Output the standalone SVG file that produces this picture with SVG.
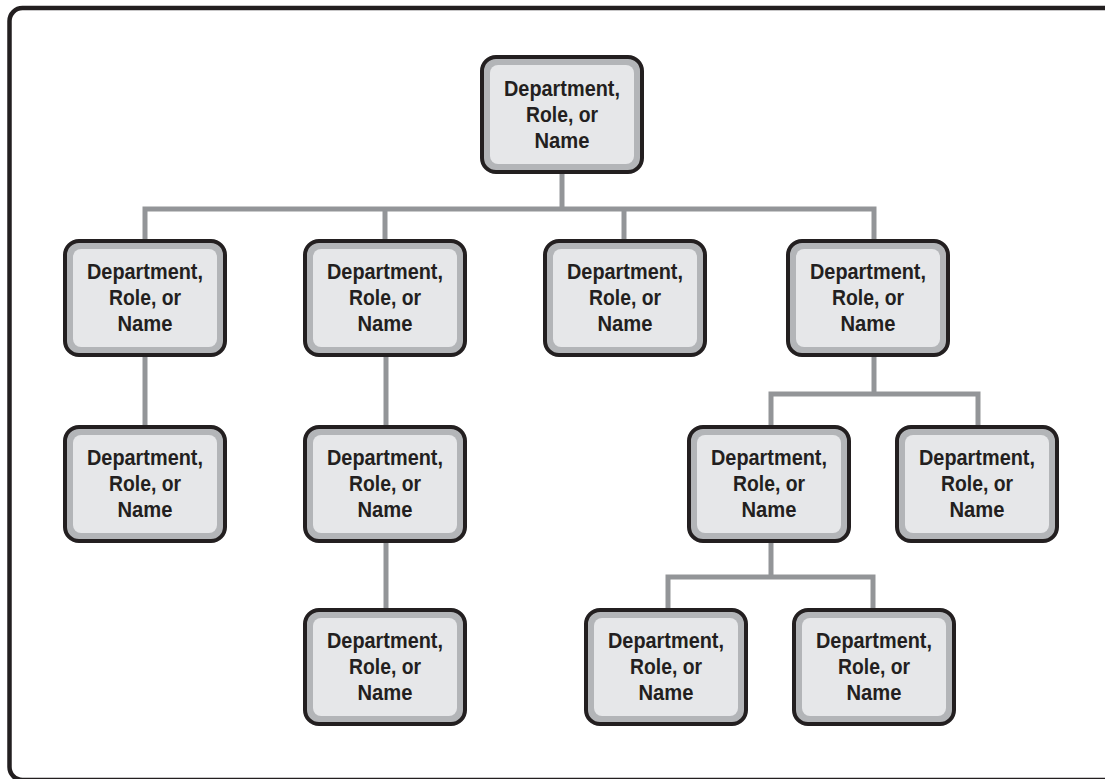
<svg xmlns="http://www.w3.org/2000/svg" width="1105" height="779" viewBox="0 0 1105 779">
<style>
.frame{fill:#ffffff;stroke:#231f20;stroke-width:4.5}
.box{fill:#b3b5b8;stroke:#231f20;stroke-width:4}
.inner{fill:#e6e7e9}
.lbl{font-family:"Liberation Sans",Arial,sans-serif;font-weight:bold;font-size:22px;fill:#231f20;text-anchor:middle}
.conn{fill:none;stroke:#939598;stroke-width:5;stroke-linecap:butt;stroke-linejoin:miter}
</style>
<defs>
<g id="card">
<rect class="box" x="0" y="0" width="160" height="114" rx="14" ry="14"/>
<rect class="inner" x="8" y="8" width="144" height="98" rx="8" ry="8"/>
<text class="lbl" x="80" y="38" textLength="116" lengthAdjust="spacingAndGlyphs">Department,</text>
<text class="lbl" x="80" y="64" textLength="72" lengthAdjust="spacingAndGlyphs">Role, or</text>
<text class="lbl" x="80" y="90" textLength="55" lengthAdjust="spacingAndGlyphs">Name</text>
</g>
</defs>
<rect class="frame" x="9.5" y="8" width="1110" height="772" rx="13" ry="13"/>
<g id="connectors">
<path class="conn" d="M562 172 V209"/>
<path class="conn" d="M145 241 V209 H874 V241"/>
<path class="conn" d="M385 209 V241"/>
<path class="conn" d="M624 209 V241"/>
<path class="conn" d="M145 355 V427"/>
<path class="conn" d="M386 355 V427"/>
<path class="conn" d="M386 541 V610"/>
<path class="conn" d="M874 355 V394"/>
<path class="conn" d="M771 427 V394 H978 V427"/>
<path class="conn" d="M771 541 V577"/>
<path class="conn" d="M668 610 V577 H873 V610"/>
</g>
<g id="node-root" transform="translate(482,57)">
<rect class="box" x="0" y="0" width="160" height="115" rx="14" ry="14"/>
<rect class="inner" x="8" y="8" width="144" height="99" rx="8" ry="8"/>
<text class="lbl" x="80" y="39" textLength="116" lengthAdjust="spacingAndGlyphs">Department,</text>
<text class="lbl" x="80" y="65" textLength="72" lengthAdjust="spacingAndGlyphs">Role, or</text>
<text class="lbl" x="80" y="91" textLength="55" lengthAdjust="spacingAndGlyphs">Name</text>
</g>
<g id="node-l1a" transform="translate(65,241)"><use href="#card"/></g>
<g id="node-l1b" transform="translate(305,241)"><use href="#card"/></g>
<g id="node-l1c" transform="translate(545,241)"><use href="#card"/></g>
<g id="node-l1d" transform="translate(788,241)"><use href="#card"/></g>
<g id="node-l2a" transform="translate(65,427)"><use href="#card"/></g>
<g id="node-l2b" transform="translate(305,427)"><use href="#card"/></g>
<g id="node-l2c" transform="translate(689,427)"><use href="#card"/></g>
<g id="node-l2d" transform="translate(897,427)"><use href="#card"/></g>
<g id="node-l3a" transform="translate(305,610)"><use href="#card"/></g>
<g id="node-l3b" transform="translate(586,610)"><use href="#card"/></g>
<g id="node-l3c" transform="translate(794,610)"><use href="#card"/></g>
</svg>
